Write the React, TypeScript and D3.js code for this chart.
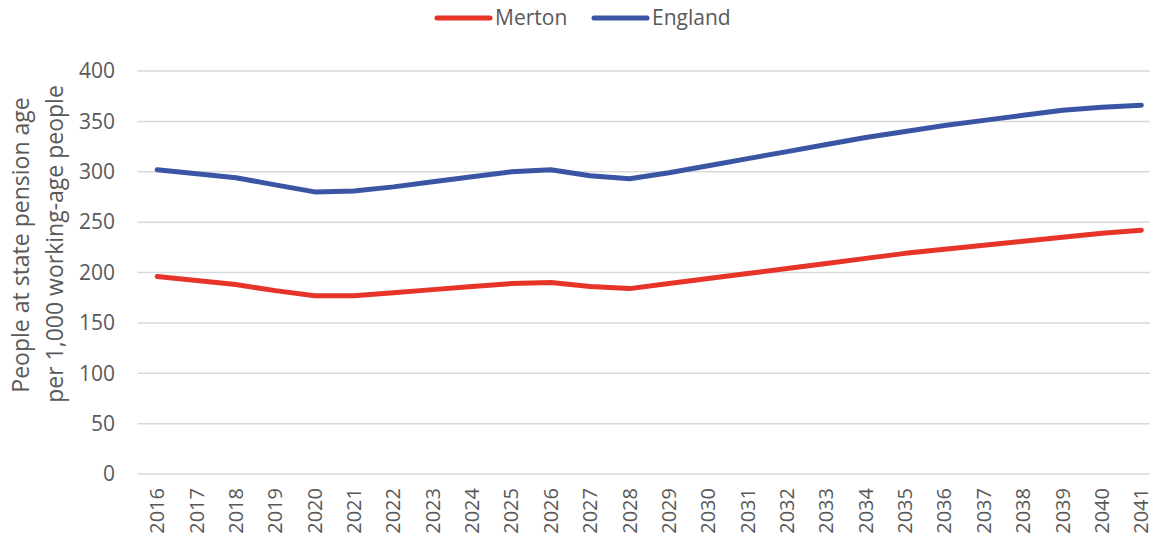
import React from "react";
import * as d3 from "d3";

const years = ["2016","2017","2018","2019","2020","2021","2022","2023","2024","2025","2026","2027","2028","2029","2030","2031","2032","2033","2034","2035","2036","2037","2038","2039","2040","2041"];
const merton = [196,192,188,182,177,177,180,183,186,189,190,186,184,189,194,199,204,209,214,219,223,227,231,235,239,242];
const england = [302,298,294,287,280,281,285,290,295,300,302,296,293,299,306,313,320,327,334,340,346,351,356,361,364,366];
const yTicks = [0,50,100,150,200,250,300,350,400];
const seriesNames = ["Merton","England"];
const seriesColors = ["#e63528","#3b55a5"];

const W = 1150, H = 540;
const left = 137.5, right = 1161, top = 71, bottom = 474;
const gridRight = 1150;
const font = "'Open Sans', sans-serif";
const textColor = "#595959";

export default function App() {
  const x = d3.scaleBand<string>().domain(years).range([left, right]);
  const y = d3.scaleLinear().domain([0, 400]).range([bottom, top]);
  const cx = (d: string) => (x(d) as number) + x.bandwidth() / 2;
  const line = d3.line<number>().x((_, i) => cx(years[i])).y((v) => y(v));
  const data = [merton, england];
  const legendX = [437, 594];
  return (
    <svg width={W} height={H} style={{ position: "absolute", left: 0, top: 0, background: "#fff" }}>
      {yTicks.map((t) => (
        <g key={t}>
          <line x1={left} x2={gridRight} y1={y(t)} y2={y(t)} stroke="#d9d9d9" strokeWidth={1.5} />
          <text x={115} y={y(t)} dy="0.35em" textAnchor="end" fontFamily={font} fontSize={21} fill={textColor}>{t}</text>
        </g>
      ))}
      {years.map((yr) => (
        <text key={yr} transform={`translate(${cx(yr)},${bottom + 14}) rotate(-90)`} dy="0.35em" textAnchor="end" fontFamily={font} fontSize={20} fill={textColor}>{yr}</text>
      ))}
      {data.map((s, i) => (
        <path key={i} d={line(s) || ""} fill="none" stroke={seriesColors[i]} strokeWidth={5} strokeLinecap="round" strokeLinejoin="round" />
      ))}
      <text transform={`translate(29,245) rotate(-90)`} textAnchor="middle" fontFamily={font} fontSize={23} fill={textColor}>People at state pension age</text>
      <text transform={`translate(63,244) rotate(-90)`} textAnchor="middle" fontFamily={font} fontSize={23} fill={textColor}>per 1,000 working-age people</text>
      {seriesNames.map((n, i) => (
        <g key={n}>
          <line x1={legendX[i]} x2={legendX[i] + 53} y1={18} y2={18} stroke={seriesColors[i]} strokeWidth={5} strokeLinecap="round" />
          <text x={legendX[i] + 58} y={18} dy="0.35em" fontFamily={font} fontSize={21} fill={textColor}>{n}</text>
        </g>
      ))}
    </svg>
  );
}
